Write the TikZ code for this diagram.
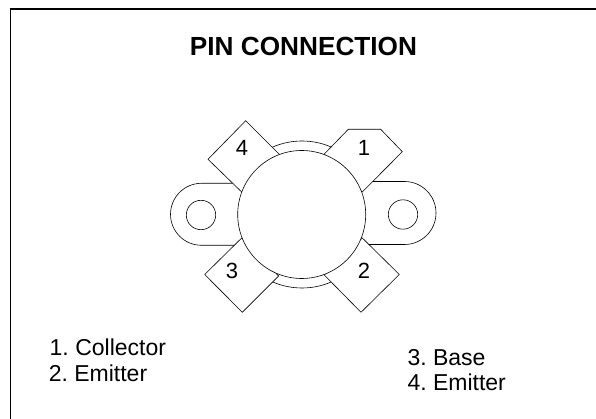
\documentclass[tikz,border=0pt]{standalone}
\usepackage{fontspec}
\setmainfont{Liberation Sans}
\frenchspacing
\begin{document}
\begin{tikzpicture}[x=1pt,y=-1pt,
    line width=0.6pt,
    pinlabel/.style={inner sep=0pt,font=\fontsize{22}{22}\selectfont},
    listlabel/.style={inner sep=0pt,anchor=base west,font=\fontsize{23}{23}\selectfont}]
    \useasboundingbox (0,0) rectangle (596,419);

    % Marco
    \draw[line width=1.3pt] (10.3,419) -- (10.3,9);
    \draw[line width=2pt] (9.6,9) -- (596,9);

    % Titulo
    \node[inner sep=0pt,font=\fontsize{26.2}{26.2}\bfseries\selectfont] (title) at (303.5,46) {PIN CONNECTION};

    % Anillo
    \draw (302,214.5) circle (73.5);

    % Aletas
    \draw[fill=white] (247,183.3) -- (201.5,183.3) arc (-90:-270:31) -- (247,245.3) -- cycle;
    \draw[fill=white] (360,181.5) -- (404.5,181.5) arc (-90:90:31.5) -- (360,244.5) -- cycle;
    \draw (201,215) circle (14.7);
    \draw (403,214.5) circle (14.7);

    % Patas
    \draw[fill=white] (280,155) -- (245.7,120.7) -- (208,159.3) -- (241.7,192) -- cycle;
    \draw[fill=white] (324.3,154) -- (348.3,129.3) -- (380.7,129.3) -- (402.3,151.7) -- (362.3,192) -- cycle;
    \draw[fill=white] (241.7,238) -- (204.7,274.5) -- (242.3,312.3) -- (278.6,276) -- cycle;
    \draw[fill=white] (362.3,238) -- (399.3,274.5) -- (361,312.3) -- (324.3,275) -- cycle;

    % Cuerpo
    \draw[fill=white] (301.7,214.5) circle (64);

    % Numeros
    \node[pinlabel] (pinone) at (364,148) {1};
    \node[pinlabel] (pintwo) at (364,271) {2};
    \node[pinlabel] (pinthree) at (232,271) {3};
    \node[pinlabel] (pinfour) at (242,148) {4};

    % Lista
    \node[listlabel] (collector) at (49.4,355) {1. Collector};
    \node[listlabel] (emitterone) at (48.5,381.7) {2. Emitter};
    \node[listlabel] (base) at (407.2,365) {3. Base};
    \node[listlabel] (emittertwo) at (407.2,390.7) {4. Emitter};
\end{tikzpicture}
\end{document}
